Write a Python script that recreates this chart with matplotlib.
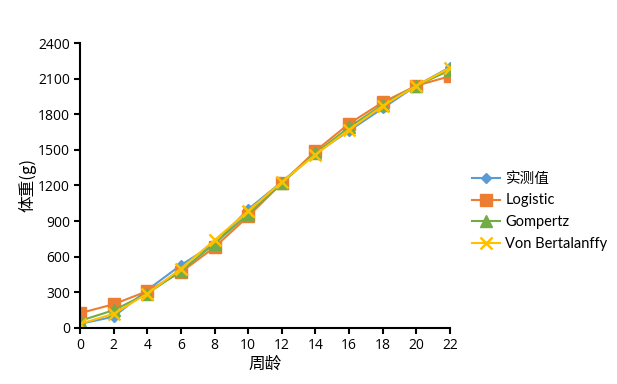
import matplotlib
matplotlib.use("Agg")
import matplotlib.pyplot as plt

plt.rcParams['font.family'] = ['Open Sans', 'Noto Sans CJK SC', 'DejaVu Sans']

weeks = [0, 2, 4, 6, 8, 10, 12, 14, 16, 18, 20, 22]
observed = [35, 95, 320, 530, 710, 1000, 1230, 1470, 1660, 1850, 2040, 2195]
logistic = [125, 200, 310, 470, 680, 940, 1220, 1490, 1720, 1900, 2040, 2120]
gompertz = [60, 150, 290, 480, 710, 960, 1220, 1470, 1690, 1880, 2040, 2170]
bertalanffy = [35, 120, 290, 500, 740, 985, 1230, 1460, 1670, 1870, 2040, 2190]
series_names = ['实测值', 'Logistic', 'Gompertz', 'Von Bertalanffy']
yticks = [0, 300, 600, 900, 1200, 1500, 1800, 2100, 2400]

fig = plt.figure(figsize=(6.17, 3.84), dpi=100)
ax = fig.add_axes([0.13, 0.146, 0.599, 0.742])

ax.plot(weeks, observed, color='#5B9BD5', marker='D', markersize=5, lw=1.5, label=series_names[0])
ax.plot(weeks, logistic, color='#ED7D31', marker='s', markersize=8, lw=1.5, label=series_names[1])
ax.plot(weeks, gompertz, color='#70AD47', marker='^', markersize=8, lw=1.5, label=series_names[2])
ax.plot(weeks, bertalanffy, color='#FFC000', marker='x', markersize=8, mew=1.8, lw=1.5, label=series_names[3])

ax.set_xlim(0, 22)
ax.set_ylim(0, 2400)
ax.set_xticks(range(0, 23, 2))
ax.set_yticks(yticks)
for s in ['top', 'right']:
    ax.spines[s].set_visible(False)
for s in ['left', 'bottom']:
    ax.spines[s].set_linewidth(1.5)
    ax.spines[s].set_color('black')
ax.tick_params(direction='out', length=4, width=1.5, labelsize=10, colors='black')
ax.set_xlabel('周龄', fontsize=12, family=['Noto Sans CJK SC'], labelpad=2)
ax.set_ylabel('体重(g)', fontsize=12, family=['Noto Sans CJK SC'])
ax.yaxis.set_label_coords(-0.118, 0.5)

leg = fig.legend(loc='upper left', bbox_to_anchor=(0.745, 0.585), frameon=False,
                 fontsize=10, handlelength=2.0, handletextpad=0.4, labelspacing=0.55)
for t in leg.get_texts():
    t.set_family(['Lato', 'Noto Sans CJK SC'])
    t.set_fontsize(10.5)

fig.savefig('out.png', dpi=100)
